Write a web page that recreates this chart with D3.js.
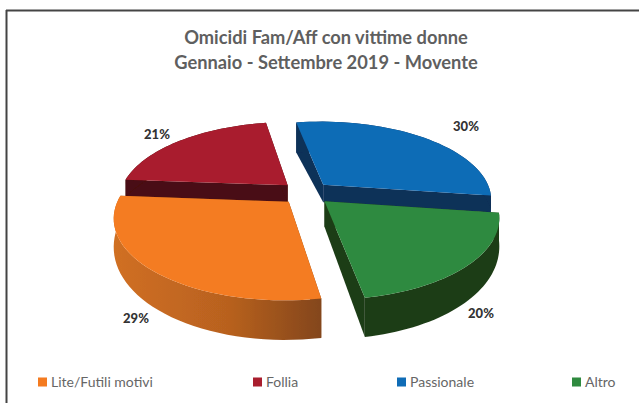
<!DOCTYPE html>
<html><head><meta charset="utf-8">
<style>html,body{margin:0;padding:0;background:#fff}svg{display:block}text{font-family:Lato,"Open Sans",sans-serif}</style>
<script src="https://cdn.jsdelivr.net/npm/d3@7"></script></head><body>
<svg id="c" width="639" height="403"></svg>
<script>
const categories = ["Lite/Futili motivi","Follia","Passionale","Altro"];
const values = [29,21,30,20];
const titleLines = ["Omicidi Fam/Aff con vittime donne","Gennaio - Settembre 2019 - Movente"];
const topColors = ["#f47b20","#a91e2e","#0f6cb6","#2f8a3f"];
const wallColors = ["#b8601f","#4a0d12","#0f3058","#1f3d17"];
const legendX = [38,253,397,572];
const labelPos = [[136,323],[157,139],[466,131],[481,318]];

const W=639,H=403,cx=306,cy=193,A=168,B=77.3,C=0.18,E=0.15,D2R=Math.PI/180;
const svg=d3.select("#c");
const defs=svg.append("defs");
const g=defs.append("linearGradient").attr("id","og").attr("gradientUnits","userSpaceOnUse").attr("x1",115).attr("x2",322).attr("y1",0).attr("y2",0);
g.append("stop").attr("offset","0").attr("stop-color","#d06f22");
g.append("stop").attr("offset","0.55").attr("stop-color","#b8611f");
g.append("stop").attr("offset","1").attr("stop-color","#83461c");
defs.append("filter").attr("id","soft").append("feGaussianBlur").attr("stdDeviation",0.45);

svg.append("line").attr("x1",6).attr("x2",639).attr("y1",10.5).attr("y2",10.5).attr("stroke","#444").attr("stroke-width",2);
svg.append("line").attr("x1",6.5).attr("x2",6.5).attr("y1",10).attr("y2",403).attr("stroke","#444").attr("stroke-width",2);

const arcs=d3.pie().sort(null).startAngle(170*D2R).endAngle(530*D2R)(values);
function proj(u,v){const w=1/(1-C*v);return [cx+A*u*w,cy+B*v*w];}
function depth(i,v){ // front slices are taller near the viewer; back slices taller at the far end
  return (i===0||i===3)? 24+14*Math.max(v,0) : Math.max(17,16-13*v);
}
const scene=svg.append("g").attr("filter","url(#soft)");
const line=d3.line();
const order=[1,2,0,3];
order.forEach(i=>{
  const a=arcs[i],mid=(a.startAngle+a.endAngle)/2;
  const ox=E*Math.sin(mid),oy=-E*Math.cos(mid);
  const apexW=[ox,oy];
  const angs=d3.range(0,41).map(k=>a.startAngle+(a.endAngle-a.startAngle)*k/40);
  const rim=angs.map(t=>[ox+Math.sin(t),oy-Math.cos(t)]);
  const P=p=>proj(p[0],p[1]);
  const Dn=p=>{const q=P(p);return [q[0],q[1]+depth(i,p[1])];};
  const wf=(i===0)?"url(#og)":wallColors[i];
  [rim[0],rim[40]].forEach(r=>{
    scene.append("path").attr("d",line([P(apexW),P(r),Dn(r),Dn(apexW)])+"Z").attr("fill",i===0?"#83461c":wallColors[i]);
  });
  scene.append("path").attr("d",line(rim.map(P).concat(rim.map(Dn).reverse()))+"Z").attr("fill",wf);
  scene.append("path").attr("d",line([P(apexW)].concat(rim.map(P)))+"Z").attr("fill",topColors[i]);
});

titleLines.forEach((t,i)=>svg.append("text").attr("x",326).attr("y",44+i*25).attr("text-anchor","middle")
  .attr("font-size",18.3).attr("font-weight",700).attr("fill","#5f5f5f").text(t));
values.forEach((v,i)=>svg.append("text").attr("x",labelPos[i][0]).attr("y",labelPos[i][1]).attr("text-anchor","middle")
  .attr("font-size",13).attr("font-weight",900).attr("fill","#333").text(v+"%"));
categories.forEach((c,i)=>{
  svg.append("rect").attr("x",legendX[i]).attr("y",377.5).attr("width",9).attr("height",9).attr("fill",topColors[i]);
  svg.append("text").attr("x",legendX[i]+13).attr("y",387).attr("font-size",14).attr("fill","#666").text(c);
});
</script></body></html>
